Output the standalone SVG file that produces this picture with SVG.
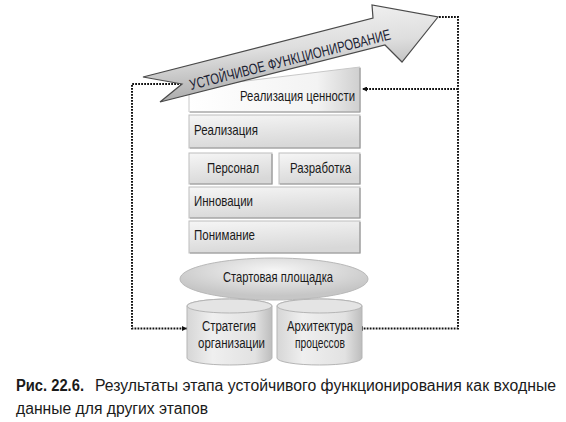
<svg xmlns="http://www.w3.org/2000/svg" width="566" height="422" viewBox="0 0 566 422">
<defs>
<linearGradient id="gArrow" x1="0.35" y1="0" x2="0.6" y2="1">
<stop offset="0" stop-color="#f4f4f4"/>
<stop offset="0.45" stop-color="#dedede"/>
<stop offset="1" stop-color="#9e9e9e"/>
</linearGradient>
<linearGradient id="gBox" x1="0" y1="0" x2="0.3" y2="1">
<stop offset="0" stop-color="#f6f6f6"/>
<stop offset="1" stop-color="#d8d8d8"/>
</linearGradient>
<linearGradient id="gTop" x1="0" y1="0" x2="1" y2="0">
<stop offset="0" stop-color="#ffffff"/>
<stop offset="0.75" stop-color="#f3f3f3"/>
<stop offset="1" stop-color="#cfcfcf"/>
</linearGradient>
<radialGradient id="gEll" cx="0.5" cy="0.3" r="0.6">
<stop offset="0" stop-color="#f6f6f6"/>
<stop offset="1" stop-color="#c6c6c6"/>
</radialGradient>
<linearGradient id="gCyl" x1="0" y1="0" x2="1" y2="0">
<stop offset="0" stop-color="#d6d6d6"/>
<stop offset="0.3" stop-color="#efefef"/>
<stop offset="0.8" stop-color="#e2e2e2"/>
<stop offset="1" stop-color="#bdbdbd"/>
</linearGradient>
<marker id="ah" viewBox="0 0 6 6" refX="6" refY="3" markerUnits="userSpaceOnUse" markerWidth="6" markerHeight="5" orient="auto">
<path d="M0,0 L6,3 L0,6 z" fill="#111"/>
</marker>
<style>
.box{fill:url(#gBox);stroke:#bdbdbd;stroke-width:1}
.sh{fill:none;stroke:#9a9a9a;stroke-width:1.2}
.lbl{font-family:"Liberation Sans",Arial,sans-serif;font-size:15px;fill:#1a1a1a}
.sm{font-size:14px}
.cap{font-family:"Liberation Sans",Arial,sans-serif;font-size:16px;fill:#1a1a1a}
.dot{fill:none;stroke:#111;stroke-width:2;stroke-dasharray:1.8 1.2}
.cyl{fill:url(#gCyl);stroke:#b5b5b5;stroke-width:1}
</style>
</defs>

<g id="connectors">
<path class="dot" d="M182,84 H132 V328.5 H187" marker-end="url(#ah)"/>
<path class="dot" d="M439,17 H458 V328.5 H358" marker-end="url(#ah)"/>
<path class="dot" d="M458,89 H362" marker-end="url(#ah)"/>
</g>

<g id="node-cyl-strategy">
<path class="cyl" d="M187,306 V358 A42.5,7 0 0 0 272,358 V306 A42.5,7 0 0 0 187,306 z"/>
<ellipse cx="229.5" cy="306" rx="42.5" ry="7" fill="#e4e4e4" stroke="#b5b5b5"/>
<text class="lbl sm" x="202" y="331" textLength="54" lengthAdjust="spacingAndGlyphs">Стратегия</text>
<text class="lbl sm" x="198" y="348" textLength="67" lengthAdjust="spacingAndGlyphs">организации</text>
</g>

<g id="node-cyl-arch">
<path class="cyl" d="M277,306 V358 A42.5,7 0 0 0 362,358 V306 A42.5,7 0 0 0 277,306 z"/>
<ellipse cx="319.5" cy="306" rx="42.5" ry="7" fill="#e4e4e4" stroke="#b5b5b5"/>
<text class="lbl sm" x="287" y="331" textLength="66" lengthAdjust="spacingAndGlyphs">Архитектура</text>
<text class="lbl sm" x="295" y="348" textLength="50" lengthAdjust="spacingAndGlyphs">процессов</text>
</g>

<g id="node-launchpad">
<ellipse cx="274" cy="279" rx="94" ry="21" fill="url(#gEll)" stroke="#b8b8b8"/>
<text class="lbl" x="223" y="282" textLength="110" lengthAdjust="spacingAndGlyphs">Стартовая площадка</text>
</g>

<g id="node-understanding">
<rect class="box" x="189" y="221" width="171" height="32"/>
<path class="sh" d="M190,253 H360 V222"/>
<text class="lbl" x="194" y="240" textLength="61" lengthAdjust="spacingAndGlyphs">Понимание</text>
</g>

<g id="node-innovation">
<rect class="box" x="189" y="187" width="171" height="31"/>
<path class="sh" d="M190,218 H360 V188"/>
<text class="lbl" x="194" y="206" textLength="59" lengthAdjust="spacingAndGlyphs">Инновации</text>
</g>

<g id="node-personnel">
<rect class="box" x="189" y="153" width="83" height="31"/>
<path class="sh" d="M190,184 H272 V154"/>
<text class="lbl" x="207" y="173" textLength="52" lengthAdjust="spacingAndGlyphs">Персонал</text>
</g>

<g id="node-development">
<rect class="box" x="279" y="153" width="81" height="31"/>
<path class="sh" d="M280,184 H360 V154"/>
<text class="lbl" x="290" y="173" textLength="61" lengthAdjust="spacingAndGlyphs">Разработка</text>
</g>

<g id="node-realization">
<rect class="box" x="189" y="115" width="171" height="33"/>
<path class="sh" d="M190,148 H360 V116"/>
<text class="lbl" x="194" y="135" textLength="64" lengthAdjust="spacingAndGlyphs">Реализация</text>
</g>

<g id="node-value">
<polygon points="189,88 360,67 360,112 189,112" fill="url(#gTop)" stroke="#c8c8c8"/>
<path class="sh" d="M190,112 H360 V68"/>
<text class="lbl" x="240" y="101" textLength="115" lengthAdjust="spacingAndGlyphs">Реализация ценности</text>
</g>

<g id="node-arrow">
<polygon points="143,77 373,18 372,5 438,17 402,62 385,45 160,102 182,84" fill="url(#gArrow)" stroke="#4a4a4a" stroke-width="1.2" stroke-linejoin="miter"/>
<text x="0" y="0" transform="translate(191,90) rotate(-14.2)" font-family="'Liberation Sans',Arial,sans-serif" font-size="15" fill="#1b2233" textLength="207" lengthAdjust="spacingAndGlyphs">УСТОЙЧИВОЕ ФУНКЦИОНИРОВАНИЕ</text>
</g>

<g id="caption">
<text class="cap" x="16" y="391"><tspan font-weight="bold" textLength="68" lengthAdjust="spacingAndGlyphs">Рис. 22.6.</tspan></text>
<text class="cap" x="95" y="391" textLength="461" lengthAdjust="spacingAndGlyphs">Результаты этапа устойчивого функционирования как входные</text>
<text class="cap" x="16" y="414" textLength="192" lengthAdjust="spacingAndGlyphs">данные для других этапов</text>
</g>
</svg>
